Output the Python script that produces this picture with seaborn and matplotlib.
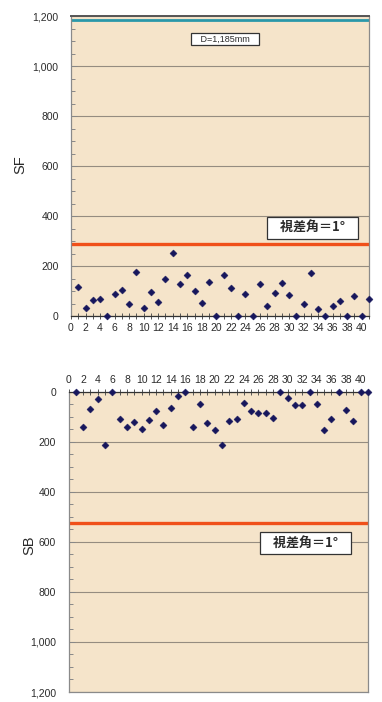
import matplotlib
matplotlib.use("Agg")
import matplotlib.pyplot as plt
from matplotlib.ticker import MultipleLocator, FuncFormatter
import pandas as pd
import seaborn as sns

# Measurement number along the horizontal axis
sample_no = list(range(1, 42))

# Front (SF) and back (SB) deviations
sf_values = [117, 33, 64, 68, 0, 89, 105, 47, 175, 31, 97, 55, 148, 252, 127,
             165, 100, 52, 135, 0, 163, 112, 0, 88, 0, 129, 40, 92, 131, 84,
             0, 49, 172, 28, 0, 40, 60, 0, 79, 0, 69]
sb_values = [0, 140, 69, 30, 214, 0, 110, 140, 120, 148, 114, 78, 135, 65, 17,
             0, 143, 51, 127, 153, 213, 119, 110, 47, 77, 85, 85, 107, 0, 25,
             54, 54, 0, 49, 154, 109, 0, 73, 118, 0, 0]

# Reference levels
distance_mm = 1185
sf_limit = 290
sb_limit = 525

distance_label = "D=1,185mm"
limit_label = "視差角＝1°"

sns.set_style("ticks")
plt.rcParams["font.family"] = ["Liberation Sans", "DejaVu Sans"]

PANEL = "#F5E4CA"
MARK = "#16165c"
RED = "#f0501a"
TEAL = "#2a98aa"
GRID = "#958c80"
TEXT = "#2b2b2b"

df = pd.DataFrame({"no": sample_no, "SF": sf_values, "SB": sb_values})

W, H = 382, 702
fig = plt.figure(figsize=(W / 100, H / 100), dpi=100)
ax1 = fig.add_axes([71 / W, 1 - 316 / H, 298 / W, 300 / H])
ax2 = fig.add_axes([68.5 / W, 1 - 692 / H, 299.5 / W, 300.5 / H])

thousands = FuncFormatter(lambda v, p: f"{int(v):,}")


def style_axes(ax, inverted):
    ax.set_facecolor(PANEL)
    ax.set_xlim(0, 41)
    if inverted:
        ax.set_ylim(1200, 0)
    else:
        ax.set_ylim(0, 1200)
    ax.yaxis.set_major_locator(MultipleLocator(200))
    ax.yaxis.set_minor_locator(MultipleLocator(50))
    ax.yaxis.set_major_formatter(thousands)
    ax.xaxis.set_major_locator(MultipleLocator(2))
    ax.xaxis.set_minor_locator(MultipleLocator(1))
    ax.grid(axis="y", which="major", color=GRID, linewidth=0.8)
    ax.set_axisbelow(True)
    ax.tick_params(axis="y", which="both", direction="in", color="#888888",
                   width=0.7, labelsize=7.5, labelcolor=TEXT, pad=9)
    ax.tick_params(axis="y", which="major", length=4)
    ax.tick_params(axis="y", which="minor", length=3)
    ax.tick_params(axis="x", which="both", direction="inout", color="#555555",
                   width=0.7, length=4, labelsize=7.5, labelcolor=TEXT, pad=3)
    for side in ["left", "right", "top", "bottom"]:
        ax.spines[side].set_visible(True)
        ax.spines[side].set_color("#8a8a8a")
        ax.spines[side].set_linewidth(0.9)


def boxed(ax, x, y, label, size, bold, pad, margin):
    kw = dict(ha="center", va="center", fontsize=size, color=TEXT,
              bbox=dict(boxstyle=f"square,pad={pad}", facecolor="white",
                        edgecolor="#333333", linewidth=0.9))
    if bold:
        kw["fontweight"] = "bold"
        kw["family"] = ["Noto Sans CJK JP", "DejaVu Sans"]
    gap = " " * margin
    ax.text(x, y, f"{gap}{label}{gap}", **kw)


# Upper panel: SF
style_axes(ax1, inverted=False)
ax1.spines["bottom"].set_color("#333333")
ax1.spines["top"].set_color("#555555")
ax1.spines["top"].set_linewidth(1.4)
ax1.axhline(distance_mm, color=TEAL, linewidth=2.0, zorder=2)
ax1.axhline(sf_limit, color=RED, linewidth=2.4, zorder=2)
sns.scatterplot(data=df, x="no", y="SF", ax=ax1, marker="D", s=13,
                color=MARK, edgecolor=MARK, linewidth=0.3, zorder=4, clip_on=False)
ax1.set_xlabel("")
ax1.set_ylabel("SF", fontsize=10.5, color=TEXT)
ax1.yaxis.set_label_coords(-0.148, 0.503)
boxed(ax1, 21.2, 1108, distance_label, 6.5, False, 0.22, 3)
boxed(ax1, 33.2, 352, limit_label, 9.4, True, 0.3, 3)

# Lower panel: SB (axis drawn downward, labels on top)
style_axes(ax2, inverted=True)
ax2.spines["top"].set_color("#333333")
ax2.xaxis.tick_top()
ax2.xaxis.set_label_position("top")
ax2.axhline(sb_limit, color=RED, linewidth=2.4, zorder=2)
sns.scatterplot(data=df, x="no", y="SB", ax=ax2, marker="D", s=13,
                color=MARK, edgecolor=MARK, linewidth=0.3, zorder=4, clip_on=False)
ax2.set_xlabel("")
ax2.set_ylabel("SB", fontsize=10.5, color=TEXT)
ax2.yaxis.set_label_coords(-0.106, 0.489)
boxed(ax2, 32.4, 606, limit_label, 9.4, True, 0.3, 3)

fig.savefig("out.png", dpi=100, facecolor="white")
